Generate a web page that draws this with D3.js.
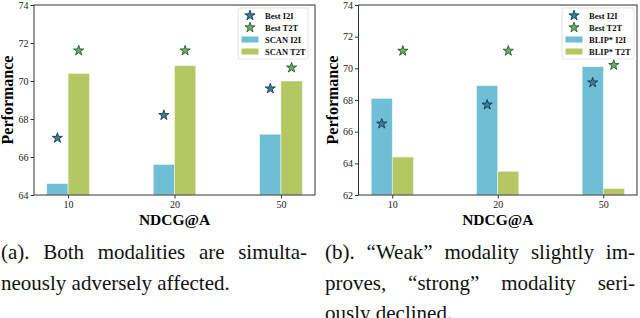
<!DOCTYPE html>
<html lang="en">
<head>
  <meta charset="UTF-8">
  <title>NDCG@A</title>
  <script src="https://d3js.org/d3.v7.min.js"></script>
  <style>
    body { margin: 0; background: #fff; }
    svg text { font-family: "Liberation Serif", "Times New Roman", serif; }
    .axis .domain { stroke: none; }
    .axis line { stroke: #333; }
    .axis text { font-size: 10px; fill: #222; font-family: "Liberation Serif", serif; }
  </style>
</head>
<body>
<svg id="chart" width="640" height="318"></svg>
<script>
  const groups = ["10", "20", "50"];

  // panel (a)
  const scanI2I = [64.6, 65.6, 67.2];
  const scanT2T = [70.4, 70.8, 70.0];
  const bestI2Ia = [67.0, 68.2, 69.6];
  const bestT2Ta = [71.6, 71.6, 70.7];
  const ticksA = [64, 66, 68, 70, 72, 74];

  // panel (b)
  const blipI2I = [68.1, 68.9, 70.1];
  const blipT2T = [64.4, 63.5, 62.4];
  const bestI2Ib = [66.5, 67.7, 69.1];
  const bestT2Tb = [71.1, 71.1, 70.2];
  const ticksB = [62, 64, 66, 68, 70, 72, 74];

  const colI2I = "#70bed6";
  const colT2T = "#b4c763";

  const svg = d3.select("svg#chart");

  function panel(o) {
    const g = svg.append("g");
    const x = d3.scaleLinear().domain([-0.32, 2.32]).range([o.left, o.right]);
    const y = d3.scaleLinear().domain(d3.extent(o.ticks)).range([195, 5]);
    const bw = 0.2;

    // bars
    o.bars.forEach((vals, k) => {
      g.selectAll(null).data(vals).enter().append("rect")
        .attr("x", (d, i) => x(i - bw + k * bw))
        .attr("y", d => y(d))
        .attr("width", x(bw) - x(0))
        .attr("height", d => y.range()[0] - y(d))
        .style("fill", k == 0 ? colI2I : colT2T)
        .style("stroke", "#eef4f0")
        .style("stroke-width", 0.6);
    });

    // stars
    const star = d3.symbol(d3.symbolStar).size(32);
    o.stars.forEach((vals, k) => {
      g.selectAll(null).data(vals).enter().append("path")
        .attr("d", star)
        .attr("transform", (d, i) => `translate(${x(i - bw / 2 + k * bw)},${y(d)})`)
        .style("fill", k == 0 ? "#3a7f9c" : "#6cae62")
        .style("stroke", k == 0 ? "#1b3c4c" : "#2d5a32")
        .style("stroke-width", 0.9);
    });

    // frame
    g.append("rect")
      .attr("x", o.left).attr("y", 5)
      .attr("width", o.right - o.left).attr("height", 190)
      .style("fill", "none").style("stroke", "#333").style("stroke-width", 1);

    g.append("g").attr("class", "axis")
      .attr("transform", `translate(${o.left},0)`)
      .call(d3.axisLeft(y).tickValues(o.ticks).tickSize(3.5).tickPadding(2));

    g.append("g").attr("class", "axis")
      .attr("transform", "translate(0,195)")
      .call(d3.axisBottom(x).tickValues([0, 1, 2]).tickFormat(i => groups[i]).tickSize(3.5).tickPadding(2.5));

    g.append("text")
      .attr("transform", `translate(${o.left - 21},100) rotate(-90)`)
      .attr("text-anchor", "middle")
      .style("font-weight", "bold").style("font-size", "16px")
      .text("Performance");

    g.append("text")
      .attr("x", x(1)).attr("y", 225)
      .attr("text-anchor", "middle")
      .style("font-weight", "bold").style("font-size", "15.5px")
      .text("NDCG@A");

    // legend
    const lg = g.append("g").attr("transform", `translate(${o.legX},8)`);
    lg.append("rect")
      .attr("width", o.legW).attr("height", 51).attr("rx", 2)
      .style("fill", "#fff").style("stroke", "#ddd").style("stroke-width", 0.8);
    const names = ["Best I2I", "Best T2T", o.name + " I2I", o.name + " T2T"];
    names.forEach((n, i) => {
      const cy = 7.5 + i * 12;
      if (i < 2) {
        lg.append("path").attr("d", star)
          .attr("transform", `translate(12,${cy})`)
          .style("fill", i == 0 ? "#3a7f9c" : "#6cae62")
          .style("stroke", i == 0 ? "#1b3c4c" : "#2d5a32")
          .style("stroke-width", 0.9);
      } else {
        lg.append("rect").attr("x", 3.5).attr("y", cy - 3).attr("width", 17).attr("height", 6)
          .style("fill", i == 2 ? colI2I : colT2T);
      }
      lg.append("text").attr("x", 27).attr("y", cy + 3)
        .style("font-weight", "bold").style("font-size", "8.5px").style("fill", "#111")
        .text(n);
    });

    // caption, justified lines get extra word spacing
    o.caption.forEach((line, i) => {
      const t = g.append("text")
        .attr("x", o.capX).attr("y", 259 + i * 30.5)
        .style("font-size", "21px").style("fill", "#111")
        .text(line.text);
      if (line.w) {
        const nat = t.node().getComputedTextLength();
        const gaps = line.text.split(" ").length - 1;
        t.style("word-spacing", ((line.w - nat) / gaps) + "px");
      }
    });
  }

  panel({
    left: 34, right: 315, ticks: ticksA, name: "SCAN",
    bars: [scanI2I, scanT2T], stars: [bestI2Ia, bestT2Ta],
    legX: 238, legW: 70, capX: 1,
    caption: [
      {text: "(a). Both modalities are simulta-", w: 306},
      {text: "neously adversely affected."}
    ]
  });

  panel({
    left: 358.5, right: 637, ticks: ticksB, name: "BLIP*",
    bars: [blipI2I, blipT2T], stars: [bestI2Ib, bestT2Tb],
    legX: 562, legW: 72, capX: 325,
    caption: [
      {text: "(b). \u201cWeak\u201d modality slightly im-", w: 310},
      {text: "proves, \u201cstrong\u201d modality seri-", w: 310},
      {text: "ously declined."}
    ]
  });
</script>
</body>
</html>
